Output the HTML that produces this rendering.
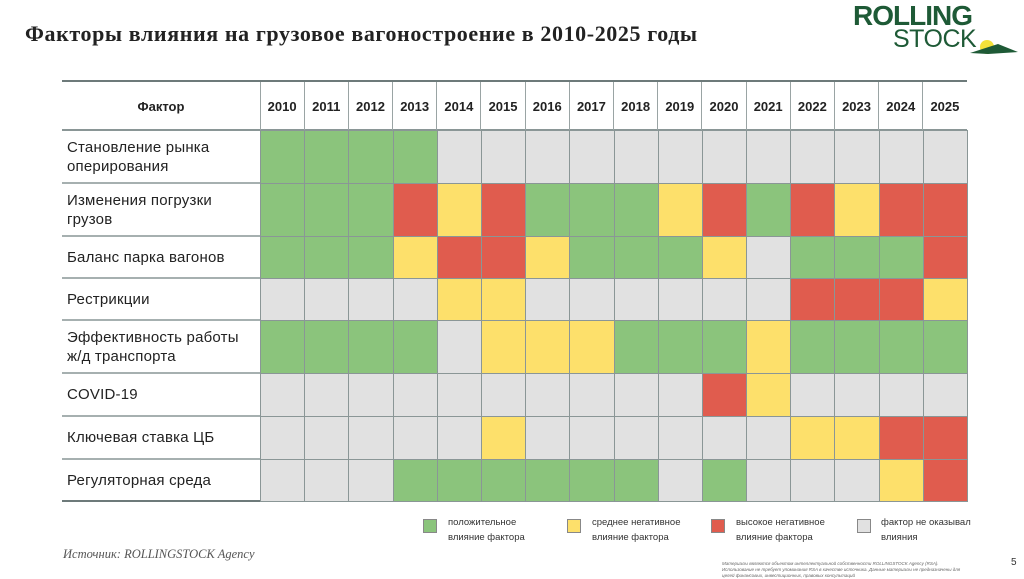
<!DOCTYPE html>
<html><head><meta charset="utf-8"><style>
body{margin:0;width:1024px;height:577px;background:#fff;position:relative;overflow:hidden;font-family:"Liberation Sans","DejaVu Sans",sans-serif;color:#222}
.a{position:absolute}
.c{position:absolute;box-sizing:border-box;border:1px solid #8a9696}
.G{background:#8bc47c}.Y{background:#fde06b}.R{background:#e05c4e}.N{background:#e1e1e1}
.f{position:absolute;left:67px;font-size:15px;line-height:19px;color:#222;display:flex;align-items:center;letter-spacing:0.2px}
.h{position:absolute;top:82px;height:48px;font-size:13px;font-weight:bold;display:flex;align-items:center;justify-content:center}
.lg{position:absolute;width:14px;height:14px;border:1px solid #888;box-sizing:border-box}
.lt{position:absolute;font-size:9.5px;line-height:15px;color:#333}
</style></head><body>
<div class="a" style="left:25px;top:21px;font-family:'Liberation Serif',serif;font-weight:bold;font-size:22px;letter-spacing:0.6px">Факторы влияния на грузовое вагоностроение в 2010-2025 годы</div>
<div class="a" style="left:853px;top:0px;font-size:28px;font-weight:bold;color:#1e5a36;letter-spacing:-1px">ROLLING</div>
<div class="a" style="left:893px;top:25px;font-size:25px;color:#1e5a36;letter-spacing:-0.5px">STOCK</div>
<div class="a" style="left:980px;top:40px;width:14px;height:14px;border-radius:50%;background:#f4e23a"></div>
<svg class="a" style="left:968px;top:42px" width="52" height="14"><polygon points="2,11 30,2 50,10 20,12" fill="#1e5a36"/></svg>
<div class="a" style="left:62px;top:80px;width:905px;height:2px;background:#6d7a7a"></div>
<div class="a" style="left:62px;top:129px;width:905px;height:2px;background:#8a9696"></div>
<div class="a" style="left:62px;top:500px;width:905px;height:2px;background:#6d7a7a"></div>
<div class="h" style="left:62px;width:198px">Фактор</div>
<div id="g"></div>
<div class="lg G" style="left:423px;top:519px"></div>
<div class="lt" style="left:448px;top:515px">положительное<br>влияние фактора</div>
<div class="lg Y" style="left:567px;top:519px"></div>
<div class="lt" style="left:592px;top:515px">среднее негативное<br>влияние фактора</div>
<div class="lg R" style="left:711px;top:519px"></div>
<div class="lt" style="left:736px;top:515px">высокое негативное<br>влияние фактора</div>
<div class="lg N" style="left:857px;top:519px"></div>
<div class="lt" style="left:881px;top:515px">фактор не оказывал<br>влияния</div>
<div class="a" style="left:63px;top:547px;font-family:'Liberation Serif',serif;font-style:italic;font-size:12.5px;color:#555">Источник: ROLLINGSTOCK Agency</div>
<div class="a" style="left:722px;top:561px;font-size:4.5px;line-height:6px;color:#666;font-style:italic;width:270px">Материалы являются объектом интеллектуальной собственности ROLLINGSTOCK Agency (RSA).<br>Использование не требует упоминания RSA в качестве источника. Данные материалы не предназначены для<br>целей финансовых, инвестиционных, правовых консультаций</div>
<div class="a" style="left:1011px;top:557px;font-size:10px;color:#333">5</div>
<script>
var rows=[
["Становление рынка<br>оперирования","GGGGNNNNNNNNNNNN",130,183],
["Изменения погрузки<br>грузов","GGGRYRGGGYRGRYRR",183,236],
["Баланс парка вагонов","GGGYRRYGGGYNGGGR",236,278],
["Рестрикции","NNNNYYNNNNNNRRRY",278,320],
["Эффективность работы<br>ж/д транспорта","GGGGNYYYGGGYGGGG",320,373],
["COVID-19","NNNNNNNNNNRYNNNN",373,416],
["Ключевая ставка ЦБ","NNNNNYNNNNNNYYRR",416,459],
["Регуляторная среда","NNNGGGGGGNGNNNYR",459,501]];
var h="",x0=260,w=(967-260)/16;
for(var i=0;i<16;i++){var x=x0+i*w;h+='<div class="h" style="left:'+x+'px;width:'+w+'px">'+(2010+i)+'</div><div class="a" style="left:'+(x-0.5)+'px;top:82px;width:1px;height:48px;background:#9aa4a4"></div>';}
rows.forEach(function(r){h+='<div class="f" style="top:'+r[2]+'px;height:'+(r[3]-r[2])+'px">'+r[0]+'</div>';
if(r[2]>130)h+='<div class="a" style="left:62px;top:'+(r[2]-1)+'px;width:198px;height:2px;background:#a6b0b0"></div>';
for(var i=0;i<16;i++){var x=x0+i*w;h+='<div class="c '+r[1][i]+'" style="left:'+x+'px;top:'+r[2]+'px;width:'+(w+1)+'px;height:'+(r[3]-r[2]+1)+'px"></div>';}});
document.getElementById("g").innerHTML=h;
</script>
</body></html>
